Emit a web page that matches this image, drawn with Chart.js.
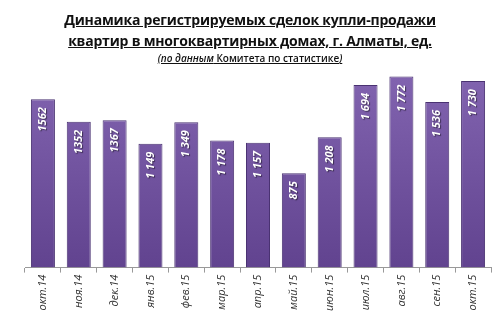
<!DOCTYPE html>
<html>
<head>
<meta charset="utf-8">
<script src="https://cdn.jsdelivr.net/npm/chart.js@4"></script>
<style>
  body { margin: 0; background: #fff; }
  #wrap { position: relative; width: 500px; height: 333px; }
  #title { position: absolute; left: 0; top: 9px; width: 500px; text-align: center; font-family: "Open Sans", sans-serif; color: #111; }
  #title .main { font-size: 14px; font-weight: bold; text-decoration: underline; line-height: 21px; letter-spacing: -0.2px; }
  #title .sub { font-size: 10px; font-weight: 600; text-decoration: underline; line-height: 14px; }
  #title .sub i { font-weight: 600; }
  canvas { position: absolute; left: 0; top: 0; }
</style>
</head>
<body>
<div id="wrap">
  <canvas id="chart" width="500" height="333"></canvas>
  <div id="title">
    <div class="main">Динамика регистрируемых сделок купли-продажи<br>квартир в многоквартирных домах, г. Алматы, ед.</div>
    <div class="sub"><i>(по данным</i> Комитета по статистике<i>)</i></div>
  </div>
</div>
<script>
const months = ['окт.14', 'ноя.14', 'дек.14', 'янв.15', 'фев.15', 'мар.15', 'апр.15', 'май.15', 'июн.15', 'июл.15', 'авг.15', 'сен.15', 'окт.15'];
const deals = [1562, 1352, 1367, 1149, 1349, 1178, 1157, 875, 1208, 1694, 1772, 1536, 1730];
const dealLabels = ['1562', '1352', '1367', '1 149', '1 349', '1 178', '1 157', '875', '1 208', '1 694', '1 772', '1 536', '1 730'];

// white rotated value labels inside the top of each bar
const barLabels = {
    id: 'barLabels',
    afterDatasetsDraw(chart) {
        const ctx = chart.ctx;
        const meta = chart.getDatasetMeta(0);
        ctx.save();
        ctx.font = 'italic bold 11px "Open Sans", sans-serif';
        ctx.fillStyle = '#fff';
        ctx.textAlign = 'right';
        ctx.textBaseline = 'middle';
        ctx.shadowColor = 'rgba(0,0,0,0.5)';
        ctx.shadowOffsetX = 1;
        ctx.shadowOffsetY = 1;
        ctx.shadowBlur = 1;
        meta.data.forEach((bar, i) => {
            ctx.save();
            ctx.translate(bar.x, bar.y + 8);
            ctx.rotate(-Math.PI / 2);
            ctx.fillText(dealLabels[i], 0, 0);
            ctx.restore();
        });
        ctx.restore();
    }
};

const ctx = document.getElementById('chart').getContext('2d');
const grad = ctx.createLinearGradient(0, 60, 0, 268);
grad.addColorStop(0, '#8466b2');
grad.addColorStop(1, '#61438f');

new Chart(ctx, {
    type: 'bar',
    data: {
        labels: months,
        datasets: [{
            data: deals,
            backgroundColor: grad,
            borderColor: '#4a3272',
            borderWidth: 1,
            barPercentage: 0.67,
            categoryPercentage: 1
        }]
    },
    options: {
        responsive: false,
        animation: false,
        layout: { padding: { left: 25, right: 9, top: 52, bottom: 20 } },
        plugins: { legend: { display: false }, tooltip: { enabled: false } },
        scales: {
            y: { display: false, min: 0, max: 2000 },
            x: {
                grid: { drawOnChartArea: false, drawTicks: true, tickLength: 5, color: '#999', offset: true },
                border: { color: '#999' },
                ticks: {
                    color: '#333',
                    font: { family: '"Open Sans", sans-serif', size: 11, style: 'italic' },
                    minRotation: 90,
                    maxRotation: 90,
                    padding: 2
                }
            }
        }
    },
    plugins: [barLabels]
});
</script>
</body>
</html>
